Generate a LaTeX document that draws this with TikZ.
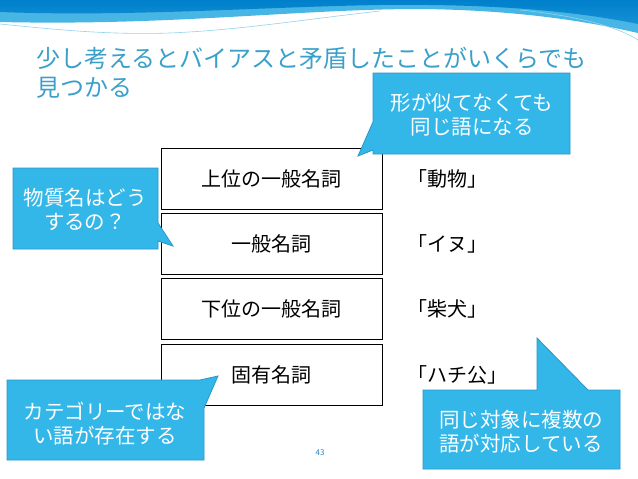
\documentclass[tikz,border=0pt]{standalone}
\usepackage{fontspec}
\newfontfamily\jp{Noto Sans CJK JP}
\usetikzlibrary{calc}
\definecolor{callblue}{RGB}{51,183,232}
\definecolor{callborder}{RGB}{40,150,200}
\definecolor{titleblue}{RGB}{58,160,202}
\definecolor{hdark}{RGB}{0,128,204}
\definecolor{hlight}{RGB}{72,182,228}
\definecolor{numblue}{RGB}{40,130,190}
\tikzset{
  wbox/.style={draw=black, line width=0.8pt, fill=white, minimum width=221pt, minimum height=61pt, inner sep=0pt, font=\jp\fontsize{20}{24}\selectfont},
  wordlabel/.style={anchor=west, inner sep=0pt, font=\jp\fontsize{20}{24}\selectfont},
  callshape/.style={fill=callblue, draw=callborder, line width=0.8pt, line join=miter},
  calltext/.style={text=white, align=center, inner sep=0pt, font=\jp\fontsize{20.5}{24}\selectfont},
}
\begin{document}
\begin{tikzpicture}[x=1pt,y=-1pt]
\useasboundingbox (0,0) rectangle (638,479);
\fill[white] (0,0) rectangle (638,479);
% header wave
\fill[hlight] (0,0) -- (638,0) -- (638,33) .. controls (590,22) and (520,10) .. (420,9) .. controls (300,9) and (170,26) .. (0,22) -- cycle;
\shade[top color=hdark, bottom color=hdark!70!hlight] (0,0) -- (638,0) -- (638,24) .. controls (560,8) and (470,4) .. (380,5) .. controls (260,7) and (130,17) .. (0,12) -- cycle;
\draw[hlight!60, line width=0.6pt] (0,24) .. controls (60,30) and (110,35) .. (170,33) .. controls (240,30) and (300,20) .. (380,11);
\draw[hlight!60, line width=0.6pt] (520,10) .. controls (580,16) and (620,28) .. (638,40);
% title
\node[anchor=west, inner sep=0pt, text=titleblue, align=left, font=\jp\fontsize{24}{29}\selectfont] (title) at (36,72.5) {少し考えるとバイアスと矛盾したことがいくらでも\\見つかる};
% boxes
\node[wbox] (b1) at (271.5,178.5) {上位の一般名詞};
\node[wbox] (b2) at (271.5,243.5) {一般名詞};
\node[wbox] (b3) at (271.5,309) {下位の一般名詞};
\node[wbox] (b4) at (271.5,374.5) {固有名詞};
% word labels
\node[wordlabel] (w1) at (407,178.5) {「動物」};
\node[wordlabel] (w2) at (407,243.5) {「イヌ」};
\node[wordlabel] (w3) at (407,309) {「柴犬」};
\node[wordlabel] (w4) at (407,375) {「ハチ公」};
% callouts
\draw[callshape] (373,73) -- (570,73) -- (570,154) -- (373,154) -- (373,150) -- (358,156) -- (373,122) -- cycle;
\node[calltext] (c1) at (472,115) {形が似てなくても\\同じ語になる};
\draw[callshape] (13,168) -- (158,168) -- (158,223) -- (173,246) -- (158,241) -- (158,249) -- (13,249) -- cycle;
\node[calltext] (c2) at (85,209) {物質名はどう\\するの？};
\draw[callshape] (7,380) -- (200,380) -- (218,376) -- (204,408) -- (204,460) -- (7,460) -- cycle;
\node[calltext] (c3) at (105,424) {カテゴリーではな\\い語が存在する};
\draw[callshape] (423,390) -- (537,390) -- (537,338) -- (588,390) -- (620,390) -- (620,469) -- (423,469) -- cycle;
\node[calltext] (c4) at (521,431.5) {同じ対象に複数の\\語が対応している};
% page number
\node[text=numblue, inner sep=0pt, font=\jp\fontsize{8}{9}\selectfont] (pg) at (320,453) {43};
\end{tikzpicture}
\end{document}
